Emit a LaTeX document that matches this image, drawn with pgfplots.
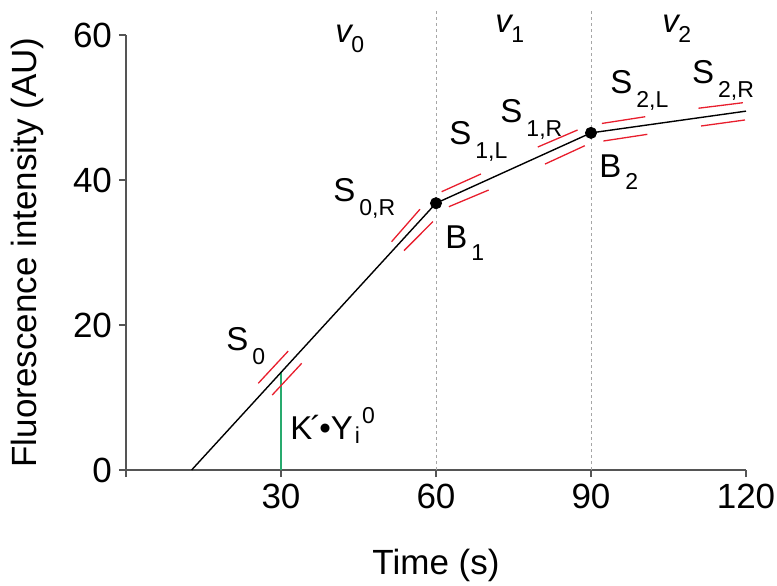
\documentclass[border=0pt]{standalone}
\usepackage{pgfplots}
\pgfplotsset{compat=1.18}
\usepackage{fontspec}
\setmainfont{Liberation Sans}
\definecolor{myred}{RGB}{232,30,45}
\definecolor{mygreen}{RGB}{40,170,110}
\definecolor{axgray}{RGB}{85,85,85}
\newcommand{\sub}[2][-7pt]{\hspace{2pt}\raisebox{#1}{\fontsize{11.5}{11.5}\selectfont #2}}
\begin{document}
\begin{tikzpicture}[font=\fontsize{16.5}{19}\selectfont]
\path[use as bounding box] (-63pt,-57.5pt) rectangle (325.5pt,235pt);
\begin{axis}[
  scale only axis, width=310pt, height=217.5pt,
  xmin=0, xmax=120, ymin=0, ymax=60,
  axis lines=left,
  axis line style={-, axgray, line width=0.8pt},
  xtick={0,30,60,90,120}, xticklabels={,30,60,90,120},
  ytick={0,20,40,60},
  tick align=outside, major tick length=3.5pt,
  tick style={axgray, line width=0.8pt},
  clip=false,
  /pgf/number format/assume math mode=true,
  ticklabel style={font=\fontsize{17.5}{20}\selectfont},
  xlabel={Time (s)}, ylabel={Fluorescence intensity (AU)},
  xlabel style={at={(axis description cs:0.5,-0.2184)}, anchor=center, font=\fontsize{17.5}{20}\selectfont},
  ylabel style={at={(axis description cs:-0.1597,0.5)}, anchor=center, font=\fontsize{17.5}{20}\selectfont},
]
% vertical dotted guides
\addplot[gray!70, line width=0.5pt, dash pattern=on 1.5pt off 1.5pt] coordinates {(60,0) (60,63.5)};
\addplot[gray!70, line width=0.5pt, dash pattern=on 1.5pt off 1.5pt] coordinates {(90,0) (90,63.5)};
% green K'Y line
\addplot[mygreen, line width=0.6pt] coordinates {(30,0) (30,13.5)};
% main curve
\addplot[black, line width=0.7pt] coordinates {(12.7,0) (60,36.8) (90,46.5) (120,49.5)};
% red tangent pairs
\addplot[myred, line width=0.65pt] coordinates {(25.6,11.96) (31.4,16.41)};
\addplot[myred, line width=0.65pt] coordinates {(28.3,10.34) (34.0,14.71)};
\addplot[myred, line width=0.65pt] coordinates {(51.4,31.49) (56.9,35.97)};
\addplot[myred, line width=0.65pt] coordinates {(53.8,30.25) (59.4,34.26)};
\addplot[myred, line width=0.65pt] coordinates {(61.1,38.39) (68.7,40.83)};
\addplot[myred, line width=0.65pt] coordinates {(62.5,36.32) (70.2,38.62)};
\addplot[myred, line width=0.65pt] coordinates {(79.7,44.55) (87.4,46.9)};
\addplot[myred, line width=0.65pt] coordinates {(81.1,42.2) (88.8,44.73)};
\addplot[myred, line width=0.65pt] coordinates {(92.1,47.8) (100.5,48.73)};
\addplot[myred, line width=0.65pt] coordinates {(92.4,45.38) (100.9,46.3)};
\addplot[myred, line width=0.65pt] coordinates {(110.8,49.9) (119.4,50.66)};
\addplot[myred, line width=0.65pt] coordinates {(111.3,47.45) (119.8,48.28)};
% break points
\addplot[only marks, mark=*, mark size=2.8pt, black] coordinates {(60,36.8) (90,46.5)};
% labels
\node[anchor=base west, inner sep=0] at (axis cs:19.35,16.55) {S\sub{0}};
\node[anchor=base west, inner sep=0] at (axis cs:40.06,37.1) {S\sub{0,R}};
\node[anchor=base west, inner sep=0] at (axis cs:61.74,30.62) {B\sub[-6pt]{1}};
\node[anchor=base west, inner sep=0] at (axis cs:62.5,44.83) {S\sub{1,L}};
\node[anchor=base west, inner sep=0] at (axis cs:72.4,48.0) {S\sub{1,R}};
\node[anchor=base west, inner sep=0] at (axis cs:91.55,40.41) {B\sub[-6pt]{2}};
\node[anchor=base west, inner sep=0] at (axis cs:93.68,52.0) {S\sub{2,L}};
\node[anchor=base west, inner sep=0] at (axis cs:109.5,53.38) {S\sub{2,R}};
\node[anchor=base west, inner sep=0] at (axis cs:40.45,59.03) {\textit{v}\hspace{-1pt}\raisebox{-5pt}{\fontsize{11.5}{11.5}\selectfont 0}};
\node[anchor=base west, inner sep=0] at (axis cs:71.4,60.28) {\textit{v}\hspace{-1pt}\raisebox{-5pt}{\fontsize{11.5}{11.5}\selectfont 1}};
\node[anchor=base west, inner sep=0] at (axis cs:103.74,60.28) {\textit{v}\hspace{-1pt}\raisebox{-5pt}{\fontsize{11.5}{11.5}\selectfont 2}};
\node[anchor=base west, inner sep=0] at (axis cs:31.74,4.14) {K\hspace{-1pt}´\hspace{-1pt}•Y\hspace{1pt}\raisebox{-2pt}{\fontsize{11.5}{11.5}\selectfont i}\hspace{1pt}\raisebox{8pt}{\fontsize{11.5}{11.5}\selectfont 0}};
\end{axis}
\end{tikzpicture}
\end{document}
